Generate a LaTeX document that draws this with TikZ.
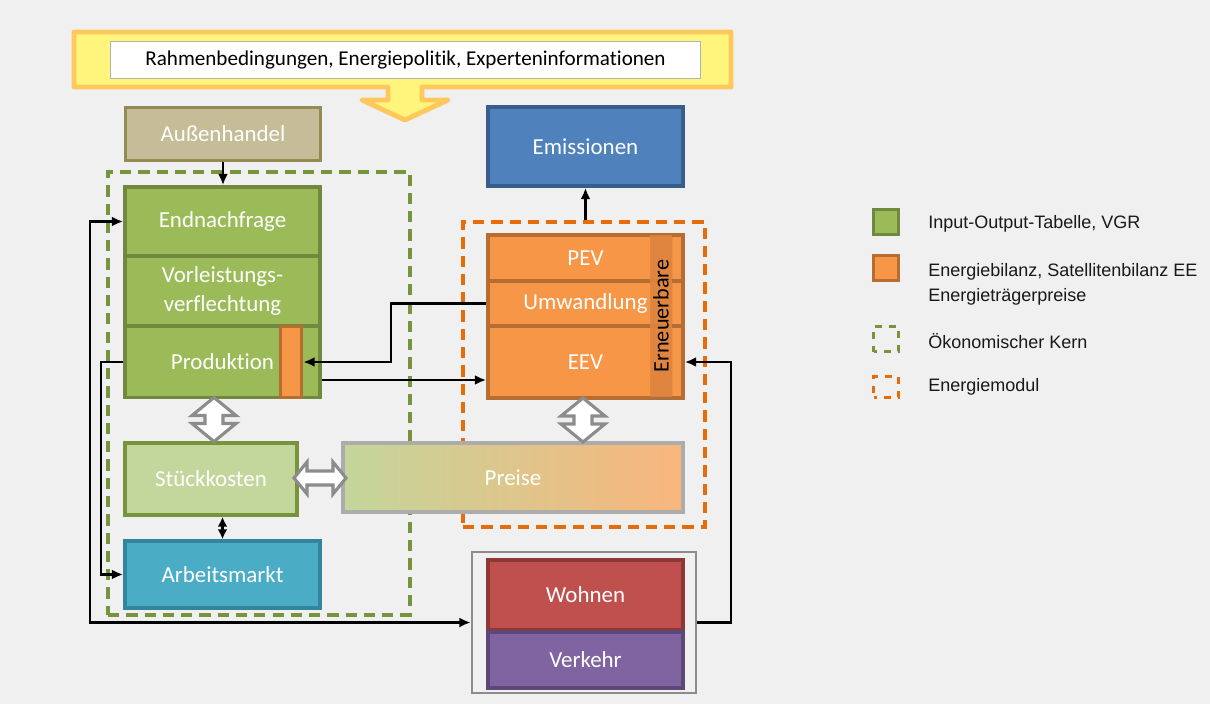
\documentclass[tikz,border=0pt]{standalone}
\usepackage{fontspec}
\setmainfont{Carlito}[Ligatures=NoCommon]
\newfontfamily\legfont{Liberation Sans}
\usetikzlibrary{arrows.meta,calc,shadows}

\newcommand{\unitpx}{0.025cm}

\definecolor{bggray}{HTML}{F0F0F0}
\definecolor{bannerfill}{HTML}{FFF57C}
\definecolor{bannerline}{HTML}{FFC85C}
\definecolor{tanfill}{HTML}{C4BD97}
\definecolor{tanline}{HTML}{948A54}
\definecolor{bluefill}{HTML}{4F81BD}
\definecolor{blueline}{HTML}{385D8A}
\definecolor{greenfill}{HTML}{9BBB59}
\definecolor{greenline}{HTML}{71893F}
\definecolor{lgreenfill}{HTML}{C3D69B}
\definecolor{lgreenline}{HTML}{77933C}
\definecolor{orangefill}{HTML}{F79646}
\definecolor{orangeline}{HTML}{B66D31}
\definecolor{ernfill}{HTML}{E0843D}
\definecolor{tealfill}{HTML}{4BACC6}
\definecolor{tealline}{HTML}{31859C}
\definecolor{redfill}{HTML}{C0504D}
\definecolor{redline}{HTML}{8C3836}
\definecolor{purplefill}{HTML}{8064A2}
\definecolor{purpleline}{HTML}{5C4776}
\definecolor{preisefill}{HTML}{F9B57C}
\definecolor{kerndash}{HTML}{77933C}
\definecolor{moddash}{HTML}{E46C0A}

\tikzset{
  blk/.style={draw,line width=2.6pt,text=white,align=center,inner sep=0pt,
    font=\fontsize{16.3}{20}\selectfont,minimum width=195*\unitpx},
  frame/.style={draw,dash pattern=on 8pt off 5pt,line width=2.3pt,inner sep=0pt},
  tip/.style={-{Latex[length=8pt,width=7pt]}},
  conn/.style={line width=1.7pt,tip},
  hollow/.style={draw=gray!90,fill=white,line width=2.2pt,line join=miter},
  legbox/.style={line width=2.6pt,minimum size=25*\unitpx,inner sep=0pt},
  legtext/.style={anchor=west,font=\legfont\fontsize{12.8}{17.8}\selectfont,
    text=black!90,align=left,inner sep=0pt}
}

\begin{document}
\begin{tikzpicture}[x=\unitpx,y=-\unitpx]
\fill[bggray] (0,0) rectangle (1210,704);
\useasboundingbox (0,0) rectangle (1210,704);

% banner with its downward arrow
\draw[fill=bannerfill,draw=bannerline,line width=3.5pt,line join=round]
  (74,32) -- (731,32) -- (731,87) -- (422,87) -- (422,100) -- (448,100)
  -- (405,120) -- (362,100) -- (388,100) -- (388,87) -- (74,87) -- cycle;
\node[draw=gray!60,fill=white,line width=0.8pt,minimum width=590*\unitpx,
  minimum height=37*\unitpx,font=\fontsize{15}{18}\selectfont] (rahmen) at (405.5,60)
  {Rahmenbedingungen, Energiepolitik, Experteninformationen};

% dashed frames
\node[frame,draw=kerndash,minimum width=302*\unitpx,minimum height=443*\unitpx] (kern) at (259,393.5) {};
\node[frame,draw=moddash,minimum width=242*\unitpx,minimum height=305*\unitpx] (emod) at (584,374.5) {};

% economic core
\node[blk,fill=tanfill,draw=tanline,minimum height=53*\unitpx] (aussen) at (223,134) {Außenhandel};
\node[blk,fill=greenfill,draw=greenline,minimum height=69*\unitpx] (endn) at (222.5,221.5) {Endnachfrage};
\node[blk,fill=greenfill,draw=greenline,minimum height=70*\unitpx] (vorl) at (222.5,291) {Vorleistungs-\\verflechtung};
\node[blk,fill=greenfill,draw=greenline,minimum height=71*\unitpx] (prod) at (222.5,362) {Produktion};
\node[draw=orangeline,fill=orangefill,line width=2.6pt,minimum width=21*\unitpx,
  minimum height=71*\unitpx,inner sep=0pt] (ebar) at (291,362) {};
\node[blk,fill=lgreenfill,draw=lgreenline,minimum width=172*\unitpx,minimum height=72*\unitpx] (stk) at (211,479) {Stückkosten};
\node[blk,fill=tealfill,draw=tealline,minimum height=67*\unitpx] (arb) at (222.5,574.5) {Arbeitsmarkt};

% energy module
\node[blk,fill=bluefill,draw=blueline,minimum height=79*\unitpx] (emis) at (585.5,146.5) {Emissionen};
\node[blk,fill=orangefill,draw=orangeline,minimum height=46*\unitpx] (pev) at (585.5,258) {PEV};
\node[blk,fill=orangefill,draw=orangeline,minimum height=45*\unitpx] (umw) at (585.5,303.5) {Umwandlung};
\node[blk,fill=orangefill,draw=orangeline,minimum height=72*\unitpx] (eev) at (585.5,362) {EEV};
\node[fill=ernfill,fill opacity=0.85,text opacity=1,rotate=90,inner sep=0pt,
  minimum width=162*\unitpx,minimum height=22*\unitpx,
  drop shadow={opacity=0.2,shadow xshift=0.6pt,shadow yshift=-1.2pt},
  font=\fontsize{15.8}{19}\selectfont] (ern) at (661,316) {Erneuerbare};
\node[blk,shading=axis,left color=lgreenfill,middle color=preisefill,right color=preisefill,
  shading angle=90,draw=gray!65,minimum width=340*\unitpx,minimum height=69*\unitpx] (preise) at (513,477.5) {Preise};

% households and transport
\node[draw=gray!90,line width=1.8pt,minimum width=224*\unitpx,minimum height=141*\unitpx] (wv) at (584,622.5) {};
\node[blk,fill=redfill,draw=redline,minimum height=70*\unitpx] (wohn) at (585.5,595) {Wohnen};
\node[blk,fill=purplefill,draw=purpleline,minimum height=56*\unitpx] (verk) at (585.5,660) {Verkehr};

% hollow double arrows
\foreach \cx/\cy in {214/419.5,583/420}{
  \draw[hollow,shift={(\cx,\cy)}] (0,-22) -- (-22,-4) -- (-9,-4) -- (-9,4) -- (-22,4)
    -- (0,22) -- (22,4) -- (9,4) -- (9,-4) -- (22,-4) -- cycle;
}
\draw[hollow,shift={(320,478)}] (-26,0) -- (-13,-16) -- (-13,-7) -- (13,-7) -- (13,-16)
  -- (26,0) -- (13,16) -- (13,7) -- (-13,7) -- (-13,16) -- cycle;

% connectors
\draw[conn] (aussen.south) -- (aussen.south |- endn.north);
\draw[conn] (emis.south |- emod.north) -- (emis.south);
\draw[conn] (umw.west) -- ++(-95,0) |- (ebar.east);
\draw[conn] ($(prod.east)+(0,18)$) -- ($(eev.west)+(0,18)$);
\draw[conn] (prod.west) -- ++(-22,0) |- (arb.west);
\draw[conn,{Latex[length=8pt,width=7pt]}-{Latex[length=8pt,width=7pt]}] (endn.west) -- ++(-33,0) |- (wv.west);
\draw[conn] (wv.east) -- ++(34,0) |- (eev.east);
\draw[conn,line width=1.8pt,{Latex[length=7pt,width=7pt]}-{Latex[length=7pt,width=7pt]}] (arb.north) -- (arb.north |- stk.south);

% legend
\node[legbox,draw=greenline,fill=greenfill] (lg1) at (886,222) {};
\node[legtext] (lt1) at (928,224) {Input-Output-Tabelle, VGR};
\node[legbox,draw=orangeline,fill=orangefill] (lg2) at (886,268) {};
\node[legtext] (lt2) at (928,284) {Energiebilanz, Satellitenbilanz EE\\Energieträgerpreise};
\node[legbox,draw=kerndash,dash pattern=on 5pt off 5pt,dash phase=2.5pt] (lg3) at (886,339) {};
\node[legtext] (lt3) at (928,341) {Ökonomischer Kern};
\node[legbox,draw=moddash,dash pattern=on 5pt off 5pt,dash phase=2.5pt,minimum height=21*\unitpx] (lg4) at (886,387) {};
\node[legtext] (lt4) at (928,387) {Energiemodul};
\end{tikzpicture}
\end{document}
